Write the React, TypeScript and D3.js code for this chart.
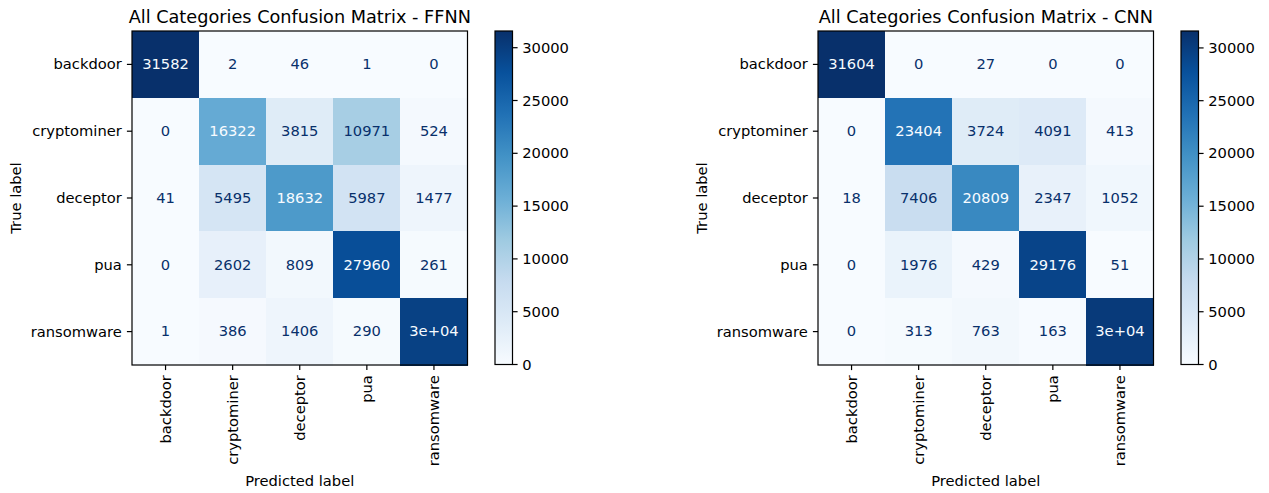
import * as d3 from 'd3'

const categories = ['backdoor', 'cryptominer', 'deceptor', 'pua', 'ransomware']

// rows = true label, cols = predicted label
const ffnnMatrix = [
  [31582, 2, 46, 1, 0],
  [0, 16322, 3815, 10971, 524],
  [41, 5495, 18632, 5987, 1477],
  [0, 2602, 809, 27960, 261],
  [1, 386, 1406, 290, 29549],
]

const cnnMatrix = [
  [31604, 0, 27, 0, 0],
  [0, 23404, 3724, 4091, 413],
  [18, 7406, 20809, 2347, 1052],
  [0, 1976, 429, 29176, 51],
  [0, 313, 763, 163, 30393],
]

const colorbarTicks = [0, 5000, 10000, 15000, 20000, 25000, 30000]

// matplotlib "Blues"
const bluesStops = ['#f7fbff', '#deebf7', '#c6dbef', '#9ecae1', '#6baed6', '#4292c6', '#2171b5', '#08519c', '#08306b']

const FONT = 'DejaVu Sans'
const TICK_FS = 14.7
const TITLE_FS = 17.7
const TICK_LEN = 5.1
const TICK_PAD = 5.1

const blues = d3
  .scaleLinear<string>()
  .domain(bluesStops.map((_, i) => i / (bluesStops.length - 1)))
  .range(bluesStops)
  .interpolate(d3.interpolateRgb)
  .clamp(true)

// sklearn: '.2g' unless plain 'd' is shorter
function pyG2(v: number) {
  if (v === 0) return '0'
  let [m, e] = v.toExponential(1).split('e')
  const exp = parseInt(e)
  if (exp < -4 || exp >= 2) {
    m = m.replace(/\.?0+$/, '')
    const sign = exp < 0 ? '-' : '+'
    return `${m}e${sign}${String(Math.abs(exp)).padStart(2, '0')}`
  }
  return v.toPrecision(2).replace(/\.0+$/, '')
}
function cellText(v: number) {
  const g = pyG2(v)
  const d = String(v)
  return d.length < g.length ? d : g
}

function Panel({ title, matrix, x0, id }: { title: string; matrix: number[][]; x0: number; id: string }) {
  const y0 = 31
  const w = 335.5
  const h = 334
  const flat = matrix.flat()
  const vmin = d3.min(flat)!
  const vmax = d3.max(flat)!
  const thresh = (vmin + vmax) / 2
  const norm = d3.scaleLinear().domain([vmin, vmax]).range([0, 1])

  const x = d3.scaleBand().domain(categories).range([x0, x0 + w])
  const y = d3.scaleBand().domain(categories).range([y0, y0 + h])

  const cbX = x0 + w + 27.5
  const cbW = 17.5
  const cbY = d3.scaleLinear().domain([vmin, vmax]).range([y0 + h - 0.5, y0])

  const x1 = x0 + w
  const yb = y0 + h

  return (
    <g fontFamily={FONT}>
      <defs>
        <linearGradient id={`grad-${id}`} x1="0" y1="1" x2="0" y2="0">
          {bluesStops.map((c, i) => (
            <stop key={i} offset={i / (bluesStops.length - 1)} stopColor={c} />
          ))}
        </linearGradient>
      </defs>
      <text x={(x0 + x1) / 2} y={22.5} textAnchor="middle" fontSize={TITLE_FS} fill="#000">
        {title}
      </text>
      {matrix.map((row, i) =>
        row.map((v, j) => (
          <rect
            key={`r${i}-${j}`}
            x={x(categories[j])!}
            y={y(categories[i])!}
            width={x.bandwidth() + 0.5}
            height={y.bandwidth() + 0.5}
            fill={blues(norm(v))}
            shapeRendering="crispEdges"
          />
        ))
      )}
      {matrix.map((row, i) =>
        row.map((v, j) => (
          <text
            key={`t${i}-${j}`}
            x={x(categories[j])! + x.bandwidth() / 2}
            y={y(categories[i])! + y.bandwidth() / 2 + 4.8}
            textAnchor="middle"
            fontSize={TICK_FS}
            fill={v < thresh ? blues(1) : blues(0)}
          >
            {cellText(v)}
          </text>
        ))
      )}
      <rect x={x0} y={y0} width={w} height={h} fill="none" stroke="#000" strokeWidth={1.2} />
      {/* y axis */}
      {categories.map((c) => {
        const cy = y(c)! + y.bandwidth() / 2
        return (
          <g key={`y${c}`}>
            <line x1={x0 - TICK_LEN} x2={x0} y1={cy} y2={cy} stroke="#000" strokeWidth={1.2} />
            <text x={x0 - TICK_LEN - TICK_PAD} y={cy + 5} textAnchor="end" fontSize={TICK_FS} fill="#000">
              {c}
            </text>
          </g>
        )
      })}
      {/* x axis */}
      {categories.map((c) => {
        const cx = x(c)! + x.bandwidth() / 2
        return (
          <g key={`x${c}`}>
            <line x1={cx} x2={cx} y1={yb} y2={yb + TICK_LEN} stroke="#000" strokeWidth={1.2} />
            <text
              transform={`translate(${cx},${yb + TICK_LEN + TICK_PAD}) rotate(-90)`}
              y={5}
              textAnchor="end"
              fontSize={TICK_FS}
              fill="#000"
            >
              {c}
            </text>
          </g>
        )
      })}
      <text x={(x0 + x1) / 2} y={485.5} textAnchor="middle" fontSize={TICK_FS} fill="#000">
        Predicted label
      </text>
      <text
        transform={`translate(${x0 - 111},${y0 + h / 2}) rotate(-90)`}
        textAnchor="middle"
        fontSize={TICK_FS}
        fill="#000"
      >
        True label
      </text>
      {/* colorbar */}
      <rect x={cbX} y={cbY(vmax)} width={cbW} height={cbY(vmin) - cbY(vmax)} fill={`url(#grad-${id})`} />
      <rect
        x={cbX}
        y={cbY(vmax)}
        width={cbW}
        height={cbY(vmin) - cbY(vmax)}
        fill="none"
        stroke="#000"
        strokeWidth={1.2}
      />
      {colorbarTicks.map((t) => (
        <g key={`cb${t}`}>
          <line x1={cbX + cbW} x2={cbX + cbW + TICK_LEN} y1={cbY(t)} y2={cbY(t)} stroke="#000" strokeWidth={1.2} />
          <text x={cbX + cbW + TICK_LEN + TICK_PAD - 0.5} y={cbY(t) + 5} fontSize={TICK_FS} fill="#000">
            {t}
          </text>
        </g>
      ))}
    </g>
  )
}

export default function App() {
  return (
    <div style={{ position: 'fixed', left: 0, top: 0 }}>
      <svg width={1269} height={493} style={{ display: 'block', background: '#fff' }}>
        <rect width={1269} height={493} fill="#fff" />
        <Panel title="All Categories Confusion Matrix - FFNN" matrix={ffnnMatrix} x0={132} id="ffnn" />
        <Panel title="All Categories Confusion Matrix - CNN" matrix={cnnMatrix} x0={818} id="cnn" />
      </svg>
    </div>
  )
}
